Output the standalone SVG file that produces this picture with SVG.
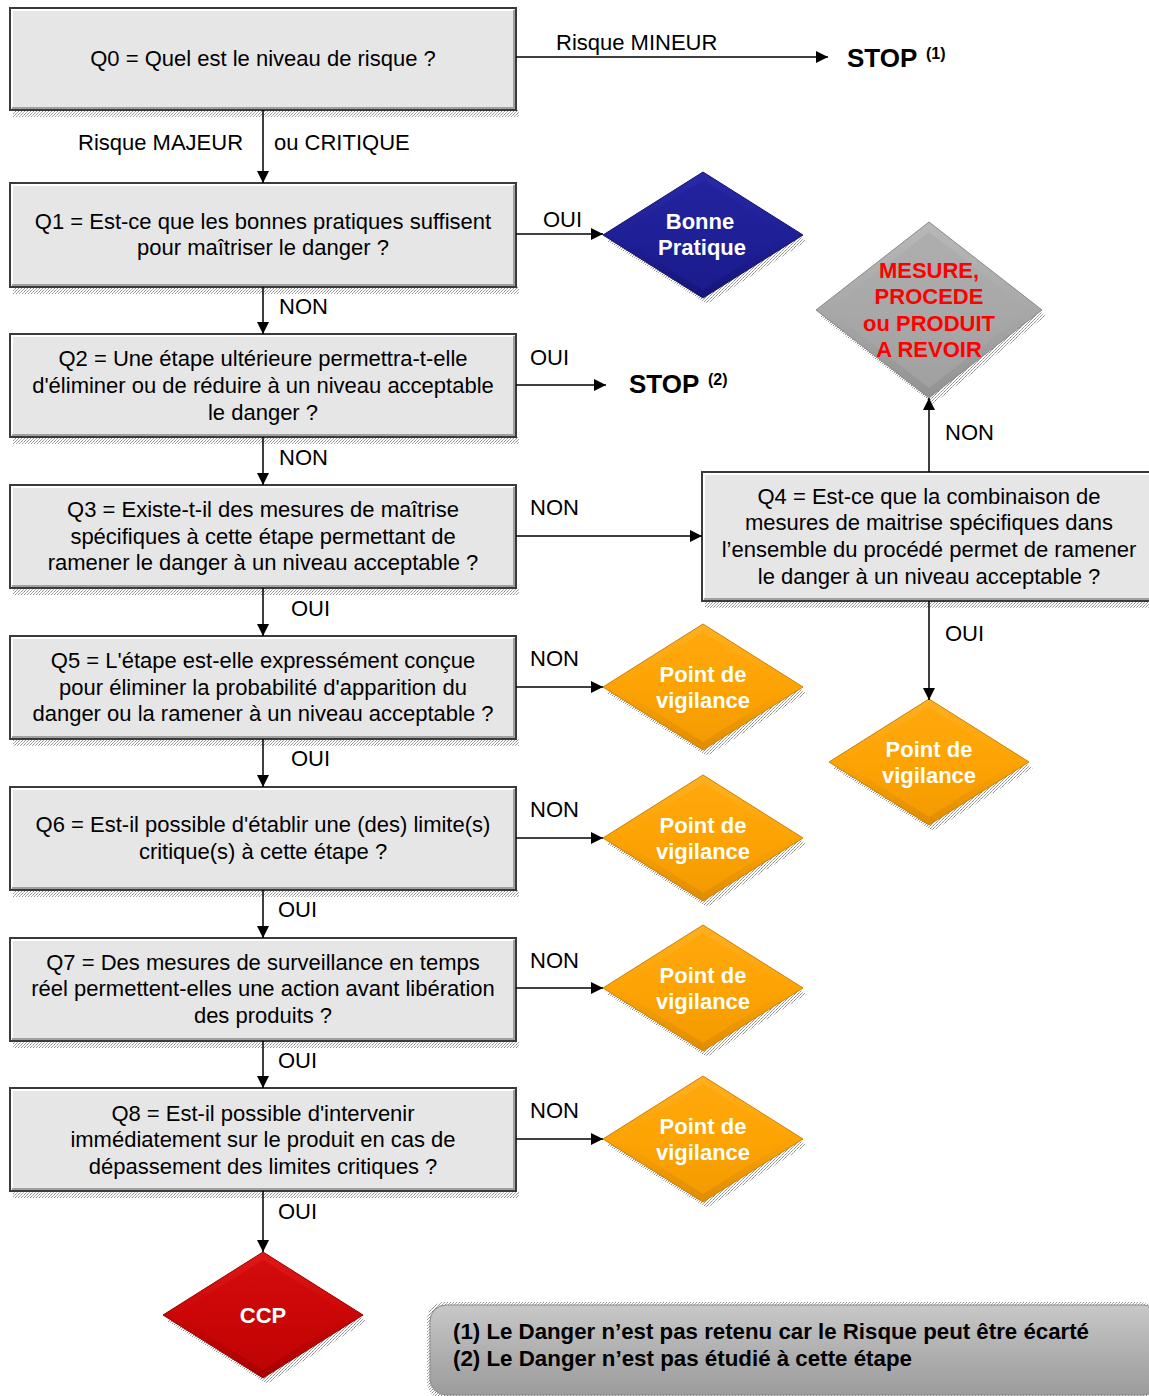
<svg xmlns="http://www.w3.org/2000/svg" width="1149" height="1396" viewBox="0 0 1149 1396">
  <defs>
    <style>
      .q { font-family: "Liberation Sans", Arial, sans-serif; font-size: 22px; fill: #000; text-anchor: middle; }
      .lbl { font-family: "Liberation Sans", Arial, sans-serif; font-size: 22px; fill: #000; }
      .stop { font-family: "Liberation Sans", Arial, sans-serif; font-size: 26px; font-weight: bold; fill: #000; }
      .sup { font-family: "Liberation Sans", Arial, sans-serif; font-size: 16px; font-weight: bold; fill: #000; }
      .dt { font-family: "Liberation Sans", Arial, sans-serif; font-size: 22px; font-weight: bold; fill: #fff; text-anchor: middle; }
      .rt { font-family: "Liberation Sans", Arial, sans-serif; font-size: 22px; font-weight: bold; fill: #ff0000; text-anchor: middle; }
      .fn { font-family: "Liberation Sans Narrow", "Liberation Sans", Arial, sans-serif; font-size: 22px; font-weight: bold; fill: #000; }
      .box { fill: #e6e6e6; stroke: #3a3a3a; stroke-width: 2; }
      .hl { fill: none; stroke: #ffffff; stroke-width: 2; }
      .sd { fill: none; stroke: #a0a0a0; stroke-width: 2; }
      .conn { fill: none; stroke: #000; stroke-width: 1.5; }
      .shadow { fill: url(#dots); }
    </style>
    <pattern id="dots" width="3" height="3" patternUnits="userSpaceOnUse">
      <rect width="3" height="3" fill="#ffffff"/>
      <rect x="0" y="0" width="1" height="1" fill="#8a8a8a"/>
      <rect x="2" y="1" width="1" height="1" fill="#b0b0b0"/>
      <rect x="1" y="2" width="1" height="1" fill="#9a9a9a"/>
    </pattern>
    <marker id="arr" viewBox="0 0 12 12" refX="12" refY="6" markerWidth="12" markerHeight="12" markerUnits="userSpaceOnUse" orient="auto">
      <path d="M0,0 L12,6 L0,12 Z" fill="#000"/>
    </marker>
    <linearGradient id="gBlue" x1="0" y1="0" x2="0" y2="1">
      <stop offset="0" stop-color="#2a2aa8"/>
      <stop offset="0.5" stop-color="#1f1f97"/>
      <stop offset="1" stop-color="#15157a"/>
    </linearGradient>
    <linearGradient id="gOrange" x1="0" y1="0" x2="0" y2="1">
      <stop offset="0" stop-color="#ffb020"/>
      <stop offset="0.5" stop-color="#fda304"/>
      <stop offset="1" stop-color="#e08c00"/>
    </linearGradient>
    <linearGradient id="gRed" x1="0" y1="0" x2="0" y2="1">
      <stop offset="0" stop-color="#e01818"/>
      <stop offset="0.5" stop-color="#cc0606"/>
      <stop offset="1" stop-color="#a80000"/>
    </linearGradient>
    <linearGradient id="gGray" x1="0" y1="0" x2="0" y2="1">
      <stop offset="0" stop-color="#b8b8b8"/>
      <stop offset="0.5" stop-color="#a8a8a8"/>
      <stop offset="1" stop-color="#929292"/>
    </linearGradient>
    <linearGradient id="gNote" x1="0" y1="0" x2="0" y2="1">
      <stop offset="0" stop-color="#c8c8c8"/>
      <stop offset="0.6" stop-color="#acacac"/>
      <stop offset="1" stop-color="#9c9c9c"/>
    </linearGradient>
    <!-- shared diamond shape, centred on 0,0 (half width 100, half height 63) -->
    <path id="dia" d="M0,-63 L100,0 L0,63 L-100,0 Z"/>
    <path id="diaIn" d="M0,-55 L87,0 L0,55 L-87,0 Z"/>
  </defs>

  <!-- question boxes -->
  <g id="q0">
    <rect class="shadow" x="13" y="110" width="506" height="7"/>
    <rect class="box" x="10" y="8" width="506" height="102"/>
    <path class="hl" d="M12,108 V10 H514"/>
    <path class="sd" d="M12,108 H514 V10"/>
    <text class="q" x="263" y="66">Q0 = Quel est le niveau de risque ?</text>
  </g>
  <g id="q1">
    <rect class="shadow" x="13" y="287" width="506" height="7"/>
    <rect class="box" x="10" y="183" width="506" height="104"/>
    <path class="hl" d="M12,285 V185 H514"/>
    <path class="sd" d="M12,285 H514 V185"/>
    <text class="q" x="263" y="229">Q1 = Est-ce que les bonnes pratiques suffisent</text>
    <text class="q" x="263" y="255">pour maîtriser le danger ?</text>
  </g>
  <g id="q2">
    <rect class="shadow" x="13" y="437" width="506" height="7"/>
    <rect class="box" x="10" y="334" width="506" height="103"/>
    <path class="hl" d="M12,435 V336 H514"/>
    <path class="sd" d="M12,435 H514 V336"/>
    <text class="q" x="263" y="366">Q2 = Une étape ultérieure permettra-t-elle</text>
    <text class="q" x="263" y="393">d'éliminer ou de réduire à un niveau acceptable</text>
    <text class="q" x="263" y="420">le danger ?</text>
  </g>
  <g id="q3">
    <rect class="shadow" x="13" y="588" width="506" height="7"/>
    <rect class="box" x="10" y="485" width="506" height="103"/>
    <path class="hl" d="M12,586 V487 H514"/>
    <path class="sd" d="M12,586 H514 V487"/>
    <text class="q" x="263" y="517">Q3 = Existe-t-il des mesures de maîtrise</text>
    <text class="q" x="263" y="544">spécifiques à cette étape permettant de</text>
    <text class="q" x="263" y="570">ramener le danger à un niveau acceptable ?</text>
  </g>
  <g id="q4">
    <rect class="shadow" x="705" y="601" width="444" height="7"/>
    <rect class="box" x="702" y="472" width="452" height="129"/>
    <path class="hl" d="M704,599 V474 H1149"/>
    <path class="sd" d="M704,599 H1149"/>
    <text class="q" x="929" y="504">Q4 = Est-ce que la combinaison de</text>
    <text class="q" x="929" y="530">mesures de maitrise spécifiques dans</text>
    <text class="q" x="929" y="557">l’ensemble du procédé permet de ramener</text>
    <text class="q" x="929" y="584">le danger à un niveau acceptable ?</text>
  </g>
  <g id="q5">
    <rect class="shadow" x="13" y="739" width="506" height="7"/>
    <rect class="box" x="10" y="636" width="506" height="103"/>
    <path class="hl" d="M12,737 V638 H514"/>
    <path class="sd" d="M12,737 H514 V638"/>
    <text class="q" x="263" y="668">Q5 = L'étape est-elle expressément conçue</text>
    <text class="q" x="263" y="695">pour éliminer la probabilité d'apparition du</text>
    <text class="q" x="263" y="721">danger ou la ramener à un niveau acceptable ?</text>
  </g>
  <g id="q6">
    <rect class="shadow" x="13" y="890" width="506" height="7"/>
    <rect class="box" x="10" y="787" width="506" height="103"/>
    <path class="hl" d="M12,888 V789 H514"/>
    <path class="sd" d="M12,888 H514 V789"/>
    <text class="q" x="263" y="832">Q6 = Est-il possible d'établir une (des) limite(s)</text>
    <text class="q" x="263" y="859">critique(s) à cette étape ?</text>
  </g>
  <g id="q7">
    <rect class="shadow" x="13" y="1041" width="506" height="7"/>
    <rect class="box" x="10" y="938" width="506" height="103"/>
    <path class="hl" d="M12,1039 V940 H514"/>
    <path class="sd" d="M12,1039 H514 V940"/>
    <text class="q" x="263" y="970">Q7 = Des mesures de surveillance en temps</text>
    <text class="q" x="263" y="996">réel permettent-elles une action avant libération</text>
    <text class="q" x="263" y="1023">des produits ?</text>
  </g>
  <g id="q8">
    <rect class="shadow" x="13" y="1191" width="506" height="7"/>
    <rect class="box" x="10" y="1088" width="506" height="103"/>
    <path class="hl" d="M12,1189 V1090 H514"/>
    <path class="sd" d="M12,1189 H514 V1090"/>
    <text class="q" x="263" y="1121">Q8 = Est-il possible d'intervenir</text>
    <text class="q" x="263" y="1147">immédiatement sur le produit en cas de</text>
    <text class="q" x="263" y="1174">dépassement des limites critiques ?</text>
  </g>

  <!-- terminal labels -->
  <g id="stop1">
    <text class="stop" x="847" y="67">STOP</text>
    <text class="sup" x="926" y="59">(1)</text>
  </g>
  <g id="stop2">
    <text class="stop" x="629" y="393">STOP</text>
    <text class="sup" x="708" y="385">(2)</text>
  </g>

  <!-- outcome diamonds -->
  <g id="bonne-pratique" transform="translate(703,235)">
    <use href="#dia" transform="translate(4,6)" class="shadow"/>
    <use href="#dia" fill="url(#gBlue)" stroke="#14146e" stroke-width="1"/>
    <use href="#diaIn" fill="#1f1f97" opacity="0.6"/>
    <text class="dt" x="-3" y="-6">Bonne</text>
    <text class="dt" x="-1" y="20">Pratique</text>
  </g>
  <g id="a-revoir" transform="translate(929,310)">
    <path d="M4,-82 L117,6 L4,94 L-109,6 Z" class="shadow"/>
    <path d="M0,-88 L113,0 L0,88 L-113,0 Z" fill="url(#gGray)" stroke="#8a8a8a" stroke-width="1"/>
    <path d="M0,-78 L100,0 L0,78 L-100,0 Z" fill="#a8a8a8" opacity="0.6"/>
    <text class="rt" x="0" y="-32">MESURE,</text>
    <text class="rt" x="0" y="-6">PROCEDE</text>
    <text class="rt" x="0" y="21">ou PRODUIT</text>
    <text class="rt" x="0" y="47">A REVOIR</text>
  </g>
  <g id="vig5" transform="translate(703,687)">
    <use href="#dia" transform="translate(4,6)" class="shadow"/>
    <use href="#dia" fill="url(#gOrange)" stroke="#d08000" stroke-width="1"/>
    <use href="#diaIn" fill="#fda304" opacity="0.6"/>
    <text class="dt" x="0" y="-5">Point de</text>
    <text class="dt" x="0" y="21">vigilance</text>
  </g>
  <g id="vig4" transform="translate(929,762)">
    <use href="#dia" transform="translate(4,6)" class="shadow"/>
    <use href="#dia" fill="url(#gOrange)" stroke="#d08000" stroke-width="1"/>
    <use href="#diaIn" fill="#fda304" opacity="0.6"/>
    <text class="dt" x="0" y="-5">Point de</text>
    <text class="dt" x="0" y="21">vigilance</text>
  </g>
  <g id="vig6" transform="translate(703,838)">
    <use href="#dia" transform="translate(4,6)" class="shadow"/>
    <use href="#dia" fill="url(#gOrange)" stroke="#d08000" stroke-width="1"/>
    <use href="#diaIn" fill="#fda304" opacity="0.6"/>
    <text class="dt" x="0" y="-5">Point de</text>
    <text class="dt" x="0" y="21">vigilance</text>
  </g>
  <g id="vig7" transform="translate(703,988)">
    <use href="#dia" transform="translate(4,6)" class="shadow"/>
    <use href="#dia" fill="url(#gOrange)" stroke="#d08000" stroke-width="1"/>
    <use href="#diaIn" fill="#fda304" opacity="0.6"/>
    <text class="dt" x="0" y="-5">Point de</text>
    <text class="dt" x="0" y="21">vigilance</text>
  </g>
  <g id="vig8" transform="translate(703,1139)">
    <use href="#dia" transform="translate(4,6)" class="shadow"/>
    <use href="#dia" fill="url(#gOrange)" stroke="#d08000" stroke-width="1"/>
    <use href="#diaIn" fill="#fda304" opacity="0.6"/>
    <text class="dt" x="0" y="-5">Point de</text>
    <text class="dt" x="0" y="21">vigilance</text>
  </g>
  <g id="ccp" transform="translate(263,1315)">
    <use href="#dia" transform="translate(4,6)" class="shadow"/>
    <use href="#dia" fill="url(#gRed)" stroke="#9a0000" stroke-width="1"/>
    <use href="#diaIn" fill="#cc0606" opacity="0.6"/>
    <text class="dt" x="0" y="8">CCP</text>
  </g>

  <!-- connectors -->
  <g id="connectors">
    <path class="conn" d="M516,57 H828" marker-end="url(#arr)"/>
    <path class="conn" d="M263,110 V183" marker-end="url(#arr)"/>
    <path class="conn" d="M516,234 H603" marker-end="url(#arr)"/>
    <path class="conn" d="M263,287 V334" marker-end="url(#arr)"/>
    <path class="conn" d="M516,385 H606" marker-end="url(#arr)"/>
    <path class="conn" d="M263,437 V485" marker-end="url(#arr)"/>
    <path class="conn" d="M516,536 H702" marker-end="url(#arr)"/>
    <path class="conn" d="M263,588 V636" marker-end="url(#arr)"/>
    <path class="conn" d="M929,472 V398" marker-end="url(#arr)"/>
    <path class="conn" d="M929,601 V700" marker-end="url(#arr)"/>
    <path class="conn" d="M516,687 H603" marker-end="url(#arr)"/>
    <path class="conn" d="M263,739 V787" marker-end="url(#arr)"/>
    <path class="conn" d="M516,838 H603" marker-end="url(#arr)"/>
    <path class="conn" d="M263,890 V938" marker-end="url(#arr)"/>
    <path class="conn" d="M516,988 H603" marker-end="url(#arr)"/>
    <path class="conn" d="M263,1041 V1088" marker-end="url(#arr)"/>
    <path class="conn" d="M516,1139 H603" marker-end="url(#arr)"/>
    <path class="conn" d="M263,1191 V1252" marker-end="url(#arr)"/>

    <text class="lbl" x="556" y="50">Risque MINEUR</text>
    <text class="lbl" x="78" y="150">Risque MAJEUR</text>
    <text class="lbl" x="274" y="150">ou CRITIQUE</text>
    <text class="lbl" x="543" y="227">OUI</text>
    <text class="lbl" x="279" y="314">NON</text>
    <text class="lbl" x="530" y="365">OUI</text>
    <text class="lbl" x="279" y="465">NON</text>
    <text class="lbl" x="530" y="515">NON</text>
    <text class="lbl" x="291" y="616">OUI</text>
    <text class="lbl" x="945" y="440">NON</text>
    <text class="lbl" x="945" y="641">OUI</text>
    <text class="lbl" x="530" y="666">NON</text>
    <text class="lbl" x="291" y="766">OUI</text>
    <text class="lbl" x="530" y="817">NON</text>
    <text class="lbl" x="278" y="917">OUI</text>
    <text class="lbl" x="530" y="968">NON</text>
    <text class="lbl" x="278" y="1068">OUI</text>
    <text class="lbl" x="530" y="1118">NON</text>
    <text class="lbl" x="278" y="1219">OUI</text>
  </g>

  <!-- footnotes -->
  <g id="notes">
    <rect class="shadow" x="427" y="1302" width="730" height="98" rx="18"/>
    <rect x="430" y="1305" width="730" height="90" rx="16" fill="url(#gNote)" stroke="#8c8c8c" stroke-width="1"/>
    <text class="fn" x="453" y="1339" textLength="636" lengthAdjust="spacingAndGlyphs">(1)  Le Danger n’est pas retenu car le Risque peut être écarté</text>
    <text class="fn" x="453" y="1366" textLength="459" lengthAdjust="spacingAndGlyphs">(2)  Le Danger n’est pas étudié à cette étape</text>
  </g>
</svg>
